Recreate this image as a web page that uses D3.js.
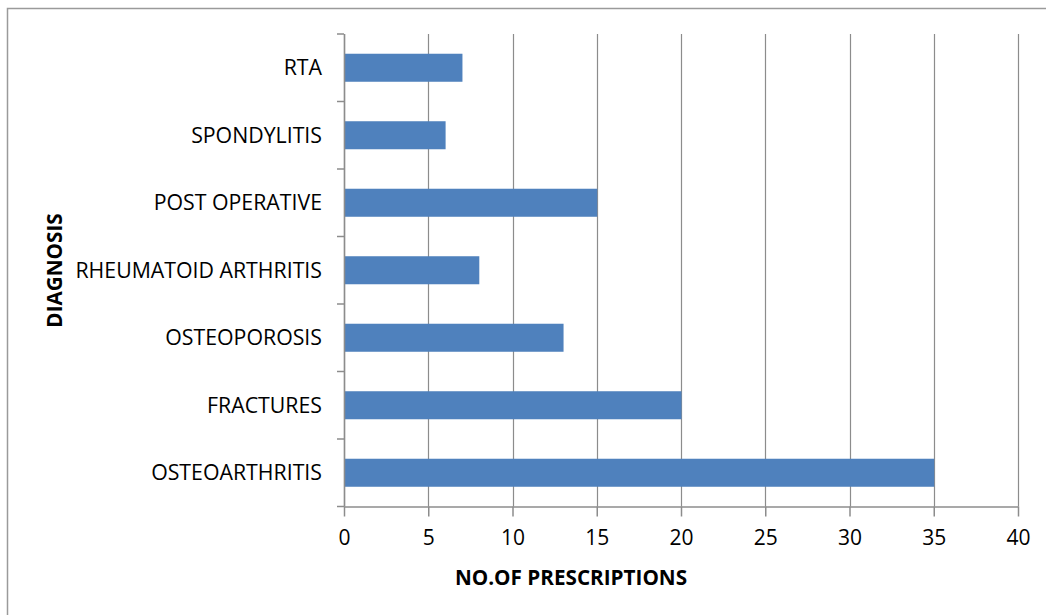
<!DOCTYPE html>
<html>
<head>
<meta charset="utf-8">
<script src="https://cdn.jsdelivr.net/npm/d3@7"></script>
<style>
  html, body { margin: 0; padding: 0; background: #fff; }
  svg { display: block; }
  text { font-family: "Open Sans", "Noto Sans", sans-serif; fill: #000; }
</style>
</head>
<body>
<div id="chart"></div>
<script>
// Diagnosis categories, listed top to bottom
const categories = ["RTA", "SPONDYLITIS", "POST OPERATIVE", "RHEUMATOID ARTHRITIS", "OSTEOPOROSIS", "FRACTURES", "OSTEOARTHRITIS"];
// Number of prescriptions per diagnosis
const prescriptions = [7, 6, 15, 8, 13, 20, 35];
// Value axis ticks
const xTicks = [0, 5, 10, 15, 20, 25, 30, 35, 40];

const W = 1046, H = 615;
const plotLeft = 344, plotRight = 1018, plotTop = 34, plotBottom = 506.5;
const gridColor = "#8c8c8c";

const svg = d3.select("#chart").append("svg")
  .attr("width", W).attr("height", H);

// Chart frame
svg.append("rect")
  .attr("x", 7.5).attr("y", 8.5)
  .attr("width", W + 20).attr("height", H + 20)
  .attr("fill", "none").attr("stroke", "#9a9a9a").attr("stroke-width", 1.5);

const x = d3.scaleLinear().domain([0, 40]).range([plotLeft, plotRight]);
const y = d3.scaleBand().domain(categories).range([plotTop, plotBottom])
  .paddingInner(0.585).paddingOuter(0.2925);

// Vertical gridlines
svg.append("g").selectAll("line").data(xTicks).join("line")
  .attr("x1", d => Math.round(x(d)) + 0.5).attr("x2", d => Math.round(x(d)) + 0.5)
  .attr("y1", plotTop).attr("y2", plotBottom)
  .attr("stroke", gridColor).attr("stroke-width", 1.2);

// Bars
svg.append("g").selectAll("rect").data(categories).join("rect")
  .attr("x", x(0) + 0.5)
  .attr("y", d => y(d))
  .attr("width", (d, i) => x(prescriptions[i]) - x(0))
  .attr("height", y.bandwidth())
  .attr("fill", "#4f81bd");

// Bottom value axis
const xAxis = d3.axisBottom(x).tickValues(xTicks).tickSize(10).tickPadding(14).tickSizeOuter(0);
const gx = svg.append("g").attr("transform", `translate(0,${plotBottom})`).call(xAxis);
gx.select(".domain").attr("stroke", gridColor).attr("stroke-width", 1.5);
gx.selectAll(".tick line").attr("stroke", gridColor).attr("stroke-width", 1.5);
gx.selectAll(".tick text").attr("font-size", 21).attr("font-family", "Open Sans").attr("fill", "#1a1a1a");

// Left category axis with ticks between categories
const step = y.step();
const gy = svg.append("g");
gy.append("line")
  .attr("x1", plotLeft + 0.5).attr("x2", plotLeft + 0.5)
  .attr("y1", plotTop).attr("y2", plotBottom)
  .attr("stroke", gridColor).attr("stroke-width", 1.5);
gy.selectAll("line.sep").data(d3.range(categories.length + 1)).join("line")
  .attr("class", "sep")
  .attr("x1", plotLeft - 7).attr("x2", plotLeft)
  .attr("y1", i => plotTop + i * step).attr("y2", i => plotTop + i * step)
  .attr("stroke", gridColor).attr("stroke-width", 1.5);
gy.selectAll("text").data(categories).join("text")
  .attr("x", 322)
  .attr("y", d => y(d) + y.bandwidth() / 2)
  .attr("dy", "0.36em")
  .attr("text-anchor", "end")
  .attr("font-size", 21.3)
  .attr("fill", "#1a1a1a")
  .text(d => d);

// Axis titles
svg.append("text")
  .attr("x", 571).attr("y", 585)
  .attr("text-anchor", "middle")
  .attr("font-size", 20.7).attr("font-weight", "bold")
  .text("NO.OF PRESCRIPTIONS");

svg.append("text")
  .attr("transform", "translate(61.5,270.5) rotate(-90)")
  .attr("text-anchor", "middle")
  .attr("font-size", 20.7).attr("font-weight", "bold")
  .text("DIAGNOSIS");
</script>
</body>
</html>
